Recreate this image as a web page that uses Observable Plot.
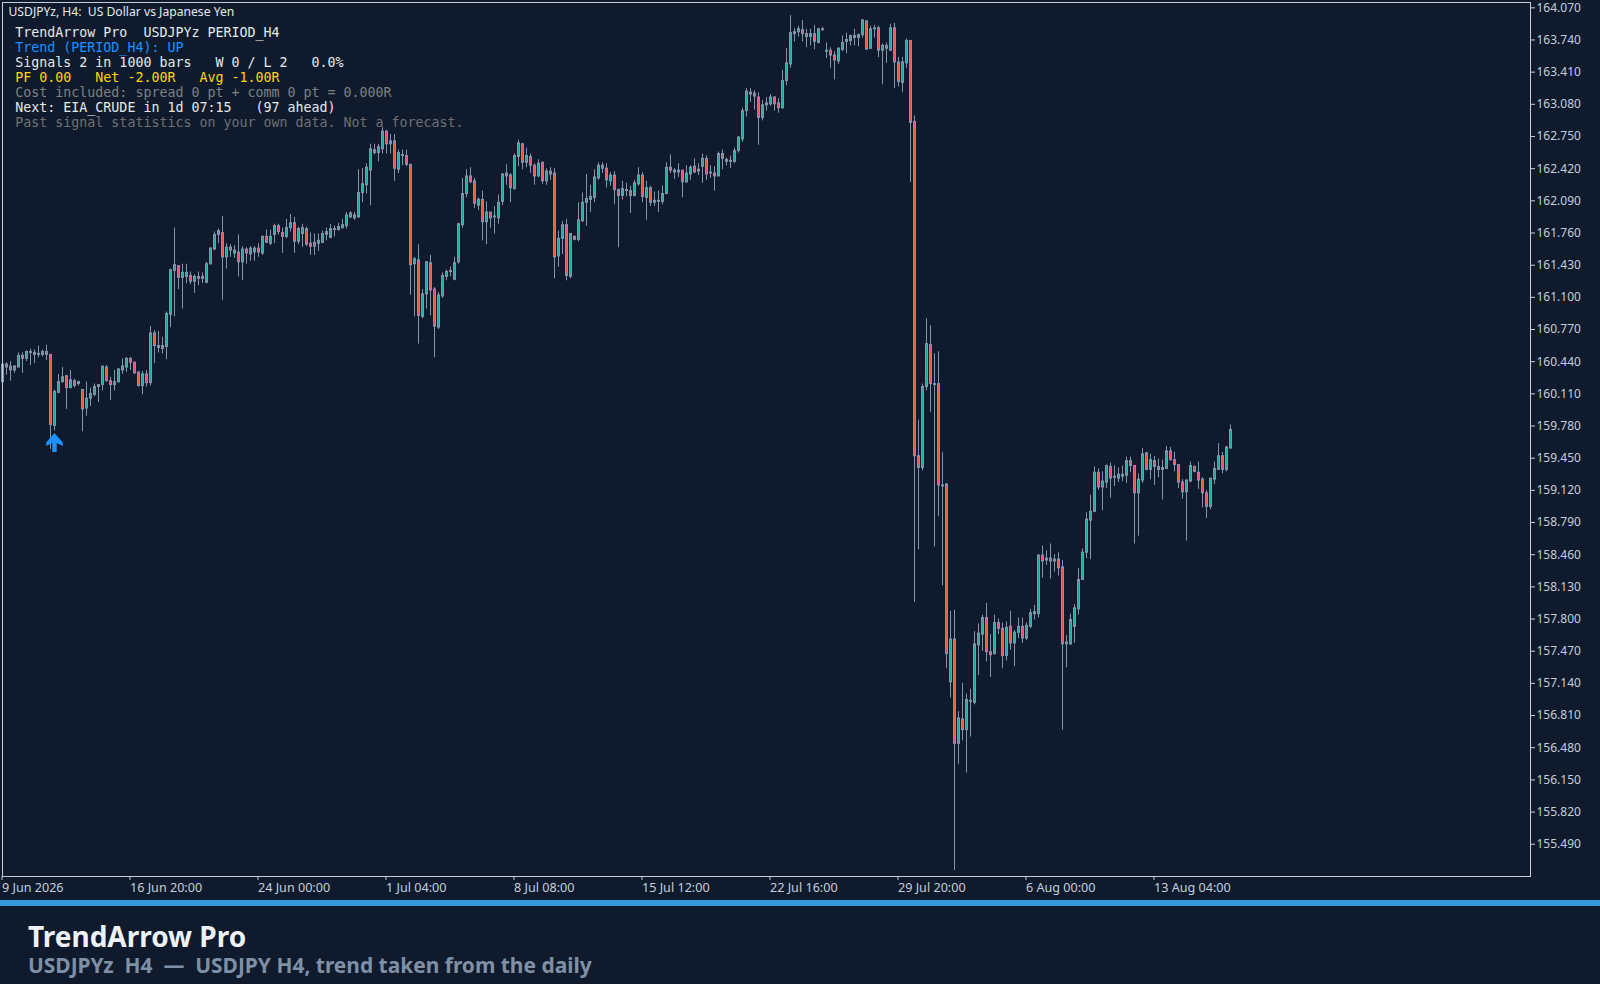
<!DOCTYPE html>
<html><head><meta charset="utf-8">
<script src="https://cdn.jsdelivr.net/npm/d3@7"></script>
<script src="https://cdn.jsdelivr.net/npm/@observablehq/plot@0.6"></script>
<style>
html,body{margin:0;padding:0;background:#0f1b2d;width:1600px;height:984px;overflow:hidden}
svg{display:block}
svg text{white-space:pre}
#bar{height:6px;background:#3498db}
#foot{height:78px;position:relative;background:#0f1b2d}
#t{position:absolute;left:28px;top:11px;font:bold 28px "Noto Sans";color:#eef2f7;line-height:38px;white-space:pre}
#s{position:absolute;left:28px;top:46px;font:bold 20.95px "Noto Sans";color:#7f90a6;line-height:26px;white-space:pre}
</style></head><body>
<div id="chart"></div><div id="bar"></div>
<div id="foot"><div id="t"></div><div id="s"></div></div>
<script>
const opens=[160.23,160.41,160.39,160.35,160.38,160.50,160.47,160.53,160.53,160.51,
160.51,160.54,160.51,159.78,160.12,160.23,160.29,160.17,160.24,160.21,
160.15,159.96,160.06,160.10,160.18,160.20,160.38,160.24,160.20,160.23,
160.35,160.38,160.47,160.43,160.33,160.19,160.31,160.22,160.73,160.60,
160.60,160.59,160.92,161.37,161.42,161.30,161.31,161.32,161.26,161.29,
161.29,161.25,161.44,161.59,161.74,161.76,161.51,161.61,161.55,161.56,
161.46,161.59,161.54,161.56,161.60,161.55,161.72,161.65,161.74,161.83,
161.76,161.72,161.81,161.86,161.67,161.75,161.80,161.65,161.66,161.65,
161.66,161.74,161.71,161.79,161.79,161.81,161.83,161.92,161.91,161.92,
162.17,162.25,162.40,162.61,162.58,162.62,162.80,162.67,162.70,162.41,
162.55,162.55,162.46,161.44,161.48,160.90,161.13,161.45,161.18,160.79,
161.11,161.31,161.36,161.28,161.46,161.84,162.16,162.34,162.29,162.04,
162.10,161.87,161.97,161.92,161.91,162.08,162.37,162.35,162.21,162.54,
162.67,162.48,162.54,162.45,162.34,162.48,162.29,162.39,162.37,161.52,
161.70,161.84,161.31,161.72,161.69,161.88,162.07,162.10,162.12,162.32,
162.45,162.42,162.29,162.35,162.20,162.14,162.19,162.19,162.14,162.26,
162.35,162.12,162.22,162.07,162.08,162.08,162.16,162.43,162.40,162.38,
162.40,162.28,162.36,162.44,162.39,162.44,162.52,162.37,162.37,162.34,
162.57,162.51,162.49,162.49,162.60,162.72,163.01,163.18,163.19,163.15,
162.94,163.07,163.08,163.15,163.09,163.04,163.32,163.49,163.80,163.82,
163.84,163.80,163.77,163.80,163.71,163.84,163.62,163.63,163.58,163.52,
163.64,163.72,163.73,163.78,163.76,163.79,163.93,163.65,163.85,163.86,
163.63,163.68,163.63,163.86,163.51,163.30,163.50,163.73,162.90,159.47,
159.35,160.18,160.61,160.20,160.21,159.16,159.18,157.15,157.59,156.52,
156.77,156.66,156.95,156.94,157.53,157.64,157.81,157.46,157.44,157.76,
157.70,157.42,157.72,157.55,157.66,157.72,157.60,157.72,157.85,157.85,
158.45,158.40,158.42,158.39,158.41,158.33,157.54,157.54,157.72,157.90,
158.20,158.48,158.81,158.90,159.30,159.15,159.20,159.36,159.25,159.24,
159.26,159.27,159.42,159.37,159.09,159.22,159.50,159.33,159.42,159.36,
159.33,159.34,159.52,159.43,159.38,159.20,159.10,159.21,159.36,159.30,
159.23,159.09,158.95,159.23,159.33,159.47,159.33,159.55];
const closes=[160.41,160.38,160.35,160.39,160.50,160.47,160.54,160.54,160.51,160.52,
160.54,160.51,159.79,160.13,160.23,160.28,160.17,160.25,160.19,160.23,
159.95,160.06,160.11,160.18,160.20,160.39,160.24,160.20,160.23,160.36,
160.39,160.47,160.43,160.32,160.19,160.31,160.22,160.73,160.60,160.58,
160.57,160.93,161.38,161.43,161.30,161.35,161.35,161.26,161.31,161.31,
161.31,161.44,161.60,161.74,161.78,161.51,161.61,161.58,161.58,161.46,
161.59,161.55,161.60,161.60,161.56,161.72,161.66,161.72,161.83,161.77,
161.72,161.81,161.86,161.67,161.80,161.81,161.64,161.62,161.62,161.68,
161.75,161.77,161.80,161.80,161.82,161.84,161.94,161.96,161.94,162.17,
162.26,162.43,162.62,162.58,162.64,162.80,162.67,162.70,162.42,162.58,
162.56,162.46,161.43,161.49,160.91,161.13,161.46,161.17,160.80,161.12,
161.32,161.36,161.37,161.45,161.85,162.16,162.34,162.28,162.06,162.10,
161.87,161.97,161.91,161.93,162.07,162.36,162.34,162.22,162.55,162.68,
162.48,162.55,162.45,162.34,162.47,162.29,162.39,162.36,161.51,161.70,
161.84,161.32,161.75,161.69,161.89,162.07,162.11,162.13,162.33,162.45,
162.42,162.30,162.35,162.20,162.14,162.21,162.20,162.14,162.27,162.35,
162.13,162.22,162.07,162.09,162.09,162.16,162.43,162.40,162.38,162.40,
162.28,162.37,162.43,162.38,162.41,162.52,162.36,162.38,162.34,162.57,
162.52,162.49,162.50,162.60,162.74,163.01,163.21,163.20,163.16,162.94,
163.07,163.09,163.15,163.08,163.04,163.32,163.50,163.81,163.82,163.85,
163.80,163.77,163.80,163.72,163.85,163.85,163.63,163.58,163.53,163.65,
163.71,163.74,163.78,163.76,163.79,163.94,163.64,163.85,163.86,163.63,
163.68,163.65,163.86,163.51,163.31,163.51,163.73,162.89,159.47,159.35,
160.18,160.62,160.21,160.21,159.17,159.17,157.44,157.59,156.52,156.78,
156.66,156.97,156.96,157.54,157.65,157.81,157.46,157.43,157.76,157.70,
157.42,157.71,157.55,157.66,157.72,157.60,157.73,157.86,157.87,158.45,
158.39,158.42,158.39,158.41,158.32,157.54,157.56,157.79,157.91,158.20,
158.48,158.82,158.90,159.30,159.15,159.21,159.37,159.24,159.26,159.28,
159.28,159.42,159.37,159.09,159.23,159.49,159.33,159.43,159.36,159.33,
159.35,159.52,159.43,159.38,159.20,159.10,159.22,159.37,159.31,159.22,
159.09,158.95,159.24,159.34,159.47,159.33,159.56,159.74];
const highs=[160.42,160.43,160.44,160.40,160.53,160.53,160.55,160.57,160.56,160.60,
160.56,160.61,160.51,160.15,160.31,160.38,160.30,160.35,160.26,160.24,
160.15,160.23,160.17,160.21,160.20,160.39,160.40,160.28,160.35,160.37,
160.47,160.48,160.48,160.43,160.33,160.34,160.35,160.80,160.76,160.75,
160.69,160.95,161.39,161.81,161.42,161.44,161.44,161.36,161.33,161.36,
161.35,161.46,161.61,161.77,161.80,161.93,161.65,161.64,161.63,161.74,
161.62,161.61,161.62,161.62,161.65,161.73,161.79,161.79,161.85,161.85,
161.81,161.90,161.95,161.92,161.82,161.85,161.82,161.76,161.75,161.75,
161.78,161.81,161.85,161.83,161.86,161.90,161.97,161.98,161.97,162.41,
162.42,162.47,162.67,162.67,162.67,162.84,162.81,162.77,162.77,162.61,
162.61,162.61,162.46,161.51,161.64,161.18,161.46,161.53,161.20,161.15,
161.35,161.38,161.41,161.51,161.86,162.32,162.41,162.43,162.32,162.12,
162.19,162.08,161.97,162.03,162.15,162.37,162.46,162.37,162.57,162.71,
162.68,162.63,162.57,162.47,162.51,162.49,162.42,162.43,162.42,161.78,
161.88,161.90,161.75,161.73,162.07,162.17,162.36,162.25,162.41,162.48,
162.48,162.47,162.38,162.39,162.21,162.29,162.27,162.24,162.30,162.43,
162.38,162.29,162.24,162.18,162.19,162.24,162.48,162.56,162.42,162.47,
162.40,162.45,162.45,162.52,162.47,162.57,162.55,162.45,162.44,162.59,
162.61,162.53,162.55,162.63,162.75,163.04,163.24,163.24,163.22,163.20,
163.12,163.15,163.18,163.16,163.14,163.43,163.65,163.99,163.86,163.88,
163.94,163.85,163.85,163.89,163.86,163.87,163.71,163.66,163.62,163.66,
163.78,163.81,163.79,163.85,163.80,163.95,163.94,163.88,163.89,163.88,
163.70,163.71,163.90,163.91,163.56,163.56,163.75,163.73,162.96,159.84,
160.21,160.88,160.81,160.52,160.54,159.51,159.19,157.88,157.89,156.85,
157.14,157.03,157.08,157.67,157.75,157.84,157.96,157.64,157.84,157.80,
157.76,157.77,157.88,157.68,157.81,157.81,157.76,157.90,157.94,158.46,
158.55,158.50,158.57,158.46,158.48,158.40,157.63,157.85,157.95,158.32,
158.52,158.89,159.07,159.36,159.34,159.31,159.38,159.40,159.37,159.35,
159.37,159.46,159.46,159.37,159.29,159.55,159.51,159.49,159.47,159.44,
159.43,159.57,159.56,159.51,159.38,159.23,159.23,159.41,159.37,159.41,
159.25,159.12,159.24,159.41,159.60,159.51,159.57,159.79];
const lows=[160.23,160.30,160.24,160.32,160.38,160.32,160.44,160.40,160.42,160.48,
160.49,160.45,159.54,159.73,160.12,160.22,159.95,160.16,160.17,160.19,
159.72,159.88,159.98,160.08,160.02,160.14,160.23,160.04,160.14,160.22,
160.31,160.33,160.35,160.31,160.18,160.10,160.18,160.19,160.42,160.53,
160.52,160.46,160.79,160.90,161.18,160.98,161.24,161.23,161.14,161.22,
161.24,161.24,161.43,161.58,161.65,161.07,161.39,161.51,161.50,161.31,
161.27,161.44,161.47,161.47,161.51,161.53,161.65,161.63,161.65,161.74,
161.55,161.70,161.77,161.55,161.64,161.61,161.62,161.53,161.53,161.57,
161.65,161.68,161.70,161.72,161.78,161.80,161.80,161.91,161.89,161.91,
162.07,162.16,162.04,162.56,162.49,162.57,162.57,162.57,162.29,162.37,
162.45,162.44,161.12,160.90,160.62,160.88,160.98,160.91,160.48,160.77,
161.09,161.27,161.31,161.27,161.44,161.81,162.12,162.27,162.01,161.99,
161.68,161.64,161.81,161.75,161.85,162.04,162.25,162.07,162.20,162.44,
162.41,162.43,162.37,162.25,162.33,162.26,162.25,162.30,161.29,161.41,
161.54,161.27,161.29,161.68,161.67,161.87,161.83,161.97,162.07,162.30,
162.37,162.22,162.24,162.05,161.61,162.10,162.13,161.96,162.13,162.24,
162.07,161.89,162.03,162.03,161.97,162.05,162.15,162.37,162.31,162.33,
162.12,162.27,162.30,162.37,162.35,162.27,162.30,162.32,162.19,162.34,
162.41,162.45,162.42,162.47,162.58,162.69,162.95,163.10,163.02,162.66,
162.91,163.01,163.06,163.01,162.99,163.03,163.27,163.45,163.72,163.77,
163.72,163.66,163.68,163.64,163.70,163.83,163.55,163.45,163.33,163.49,
163.62,163.60,163.68,163.68,163.67,163.76,163.64,163.64,163.76,163.56,
163.28,163.50,163.62,163.24,163.26,163.20,163.45,162.28,157.97,158.51,
159.32,160.14,159.92,158.54,158.85,158.14,157.29,156.99,155.22,156.31,
156.55,156.22,156.59,156.92,157.22,157.47,157.36,157.20,157.43,157.64,
157.29,157.37,157.48,157.31,157.60,157.55,157.58,157.70,157.79,157.81,
158.22,158.35,158.21,158.28,158.24,156.66,157.30,157.53,157.55,157.84,
158.20,158.42,158.41,158.89,159.12,158.91,159.14,159.04,159.16,159.20,
159.21,159.19,159.30,158.57,158.65,159.19,159.32,159.23,159.17,159.25,
159.02,159.34,159.42,159.31,159.14,159.03,158.60,159.20,159.30,159.13,
158.94,158.83,158.92,159.18,159.33,159.29,159.31,159.54];
const priceTicks=[164.07,163.74,163.41,163.08,162.75,162.42,162.09,161.76,161.43,161.10,160.77,160.44,160.11,159.78,159.45,159.12,158.79,158.46,158.13,157.80,157.47,157.14,156.81,156.48,156.15,155.82,155.49];
const timeTicks=[0,32,64,96,128,160,192,224,256,288];
const timeLabels=["9 Jun 2026","16 Jun 20:00","24 Jun 00:00","1 Jul 04:00","8 Jul 08:00","15 Jul 12:00","22 Jul 16:00","29 Jul 20:00","6 Aug 00:00","13 Aug 04:00"];
const signalBar=[13], signalPrice=[159.61];
const header="USDJPYz, H4:  US Dollar vs Japanese Yen";
const overlayLines=["TrendArrow Pro  USDJPYz PERIOD_H4","Trend (PERIOD_H4): UP","Signals 2 in 1000 bars   W 0 / L 2   0.0%","PF 0.00   Net -2.00R   Avg -1.00R","Cost included: spread 0 pt + comm 0 pt = 0.000R","Next: EIA_CRUDE in 1d 07:15   (97 ahead)","Past signal statistics on your own data. Not a forecast."];
const overlayColors=["#e8e8e8","#1e90ff","#e8e8e8","#ffd700","#808080","#e8e8e8","#707070"];
const title="TrendArrow Pro", subtitle="USDJPYz  H4  \u2014  USDJPY H4, trend taken from the daily";

const BG="#0f1b2d",AX="#c4cedb",WICK="#8094aa",UP="#26a69a",DN="#ef5350";
const bars=d3.range(opens.length);
const arrow={draw(c){c.moveTo(0,-9.5);c.lineTo(8.3,0);c.lineTo(8.3,3.5);c.lineTo(2.2,0.5);c.lineTo(2.2,9.5);c.lineTo(-2.2,9.5);c.lineTo(-2.2,0.5);c.lineTo(-8.3,3.5);c.lineTo(-8.3,0);c.closePath();}};
const mono='"DejaVu Sans Mono"';
const plot=Plot.plot({
  width:1600,height:900,marginLeft:2,marginTop:2,marginRight:70,marginBottom:24,
  style:{background:BG},
  x:{type:"linear",domain:[0,382],axis:null},
  y:{type:"linear",domain:[155.159,164.1245],axis:null},
  marks:[
    Plot.ruleX(bars,{x:i=>i,y1:i=>lows[i],y2:i=>highs[i],stroke:WICK,strokeWidth:1}),
    Plot.rect(bars,{x1:i=>i-0.125,x2:i=>i+0.375,y1:i=>opens[i],y2:i=>closes[i],
      fill:i=>closes[i]<opens[i]?DN:UP,stroke:WICK,strokeWidth:1}),
    Plot.dot(signalBar,{x:d=>d,y:(d,i)=>signalPrice[i],symbol:arrow,r:8,fill:"#1e90ff",stroke:"none"}),
    Plot.frame({stroke:AX,strokeWidth:1}),
    Plot.axisX(timeTicks,{anchor:"bottom",tickSize:4,tickPadding:3,stroke:AX,fill:AX,textAnchor:"start",dx:-0.5,fontFamily:"Noto Sans",fontSize:12.6,label:null,
      tickFormat:d=>timeLabels[timeTicks.indexOf(d)]}),
    Plot.axisY(priceTicks,{anchor:"right",tickSize:4,tickPadding:2,stroke:AX,fill:AX,fontFamily:"Noto Sans",fontSize:12,label:null,tickFormat:d=>d.toFixed(3)}),
    Plot.text([header],{text:d=>d,frameAnchor:"top-left",lineAnchor:"middle",textAnchor:"start",dx:6,dy:9.7,fill:"#e6e9ee",fontFamily:"Noto Sans",fontSize:12.15}),
    ...overlayLines.map((t,i)=>Plot.text([t],{text:d=>d,frameAnchor:"top-left",lineAnchor:"middle",textAnchor:"start",dx:12.8,dy:30.3+15*i,fill:overlayColors[i],fontFamily:mono,fontSize:13.3}))
  ]
});
document.getElementById("chart").append(plot);
document.getElementById("t").textContent=title;
document.getElementById("s").textContent=subtitle;
</script>
</body></html>
